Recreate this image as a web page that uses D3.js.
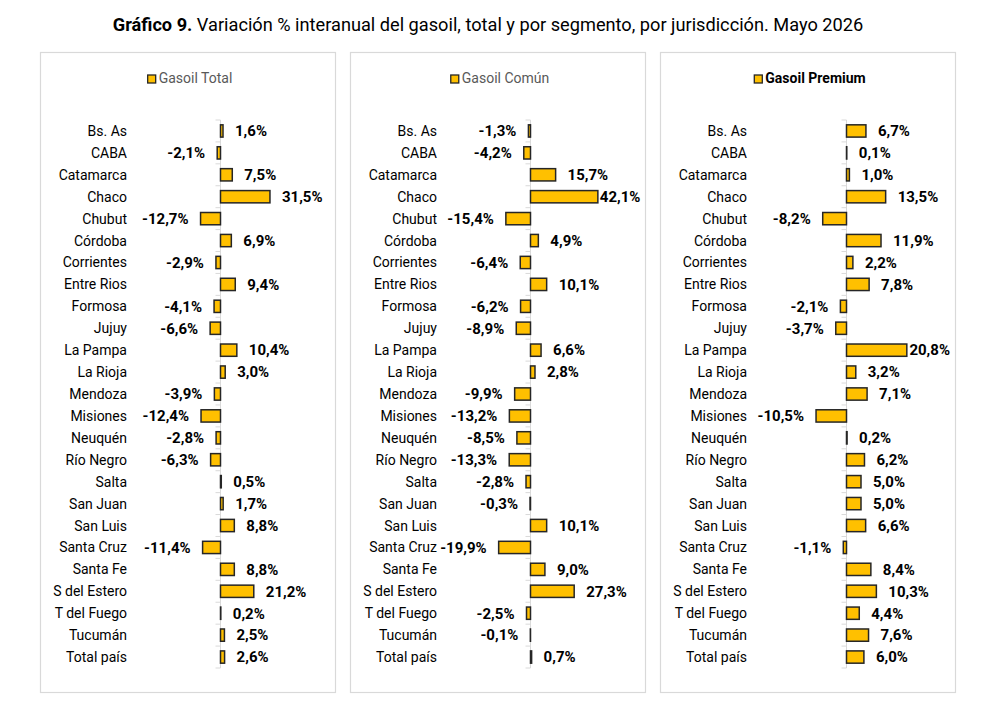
<!DOCTYPE html>
<html><head><meta charset="utf-8">
<script src="https://cdn.jsdelivr.net/npm/d3@7"></script>
<style>body{margin:0;background:#fff}svg{display:block}text{font-family:Roboto,"Liberation Sans",Arial,sans-serif}</style>
</head><body><svg id="c" width="997" height="704"></svg>
<script>
const categories = ["Bs. As","CABA","Catamarca","Chaco","Chubut","Córdoba","Corrientes","Entre Rios","Formosa","Jujuy","La Pampa","La Rioja","Mendoza","Misiones","Neuquén","Río Negro","Salta","San Juan","San Luis","Santa Cruz","Santa Fe","S del Estero","T del Fuego","Tucumán","Total país"];
const gasoilTotal = [1.6,-2.1,7.5,31.5,-12.7,6.9,-2.9,9.4,-4.1,-6.6,10.4,3.0,-3.9,-12.4,-2.8,-6.3,0.5,1.7,8.8,-11.4,8.8,21.2,0.2,2.5,2.6];
const gasoilComun = [-1.3,-4.2,15.7,42.1,-15.4,4.9,-6.4,10.1,-6.2,-8.9,6.6,2.8,-9.9,-13.2,-8.5,-13.3,-2.8,-0.3,10.1,-19.9,9.0,27.3,-2.5,-0.1,0.7];
const gasoilPremium = [6.7,0.1,1.0,13.5,-8.2,11.9,2.2,7.8,-2.1,-3.7,20.8,3.2,7.1,-10.5,0.2,6.2,5.0,5.0,6.6,-1.1,8.4,10.3,4.4,7.6,6.0];
const seriesNames = ["Gasoil Total","Gasoil Común","Gasoil Premium"];
const titleBold = "Gráfico 9.";
const titleRest = " Variación % interanual del gasoil, total y por segmento, por jurisdicción. Mayo 2026";

const svg = d3.select("#c");
const fmt = v => d3.format(".1f")(v).replace(".", ",").replace("\u2212", "-") + "%";

// title
const t = svg.append("text").attr("x", 488).attr("y", 31).attr("text-anchor","middle")
  .attr("font-size", 18.2).attr("fill","#000");
t.append("tspan").attr("font-weight","bold").text(titleBold);
t.append("tspan").text(titleRest);

const panels = [
  {x:40, data:gasoilTotal, name:seriesNames[0], domain:[-20,40], zero:220.5, ppu:1.57, bold:false},
  {x:350, data:gasoilComun, name:seriesNames[1], domain:[-20,45], zero:530.5, ppu:1.6, bold:false},
  {x:660, data:gasoilPremium, name:seriesNames[2], domain:[-15,25], zero:846.5, ppu:2.9, bold:true}
];
const pw = 295, panelTop = 52, ph = 640;
const y = d3.scaleBand().domain(categories).range([120, 668]).paddingInner(0.44).paddingOuter(0.22);
const yStep = d3.scaleBand().domain(categories).range([120, 668]);

panels.forEach(p => {
  const g = svg.append("g");
  g.append("rect").attr("x", p.x+0.5).attr("y", panelTop+0.5).attr("width", pw).attr("height", ph)
    .attr("fill","#fff").attr("stroke","#d9d9d9").attr("stroke-width",1.2);
  const x = d3.scaleLinear().domain(p.domain)
    .range([p.zero + p.domain[0]*p.ppu, p.zero + p.domain[1]*p.ppu]);
  const x0 = x(0);
  // legend
  const lg = g.append("g");
  const lt = lg.append("text").attr("y", 83).attr("font-size", 14)
    .attr("fill", p.bold ? "#000" : "#595959").attr("font-weight", p.bold ? "bold":"normal").text(p.name);
  const lw = lt.node().getComputedTextLength();
  const total = 8 + 3 + lw;
  const lx = p.x + pw/2 + 2.5 - total/2;
  lg.append("rect").attr("x", lx).attr("y", 75).attr("width", 8).attr("height", 8)
    .attr("fill","#FFC000").attr("stroke","#262626").attr("stroke-width",1.3);
  lt.attr("x", lx + 11);
  // axis
  g.append("line").attr("x1", x0).attr("x2", x0).attr("y1", 120).attr("y2", 668)
    .attr("stroke","#d9d9d9").attr("stroke-width",1);
  const bounds = categories.map(c => yStep(c)).concat([668]);
  g.selectAll("line.tk").data(bounds).join("line").attr("class","tk")
    .attr("x1", x0-5).attr("x2", x0).attr("y1", d=>d).attr("y2", d=>d)
    .attr("stroke","#d9d9d9").attr("stroke-width",1);
  // category labels
  g.selectAll("text.cat").data(categories).join("text").attr("class","cat")
    .attr("x", p.x + 87).attr("y", d => y(d) + y.bandwidth()/2 + 5)
    .attr("text-anchor","end").attr("font-size", 14).attr("fill","#000").text(d=>d);
  // bars
  g.selectAll("rect.bar").data(p.data).join("rect").attr("class","bar")
    .attr("x", d => Math.min(x(0), x(d))).attr("y", (d,i) => y(categories[i]))
    .attr("width", d => Math.abs(x(d)-x(0))).attr("height", y.bandwidth())
    .attr("fill","#FFC000").attr("stroke","#262626").attr("stroke-width",1.5);
  // value labels
  const rightLimit = p.x + pw - 5;
  g.selectAll("text.val").data(p.data).join("text").attr("class","val")
    .attr("y", (d,i) => y(categories[i]) + y.bandwidth()/2 + 5.3)
    .attr("font-size", 15).attr("font-weight","bold").attr("fill","#000")
    .text(d => fmt(d))
    .each(function(d){
      const w = this.getComputedTextLength();
      if (d >= 0) {
        let xs = x(d) + 12;
        if (xs + w > rightLimit) xs = Math.max(x(d) + 2, rightLimit - w);
        d3.select(this).attr("x", xs).attr("text-anchor","start");
      } else {
        d3.select(this).attr("x", x(d) - 12).attr("text-anchor","end");
      }
    });
});
</script></body></html>
